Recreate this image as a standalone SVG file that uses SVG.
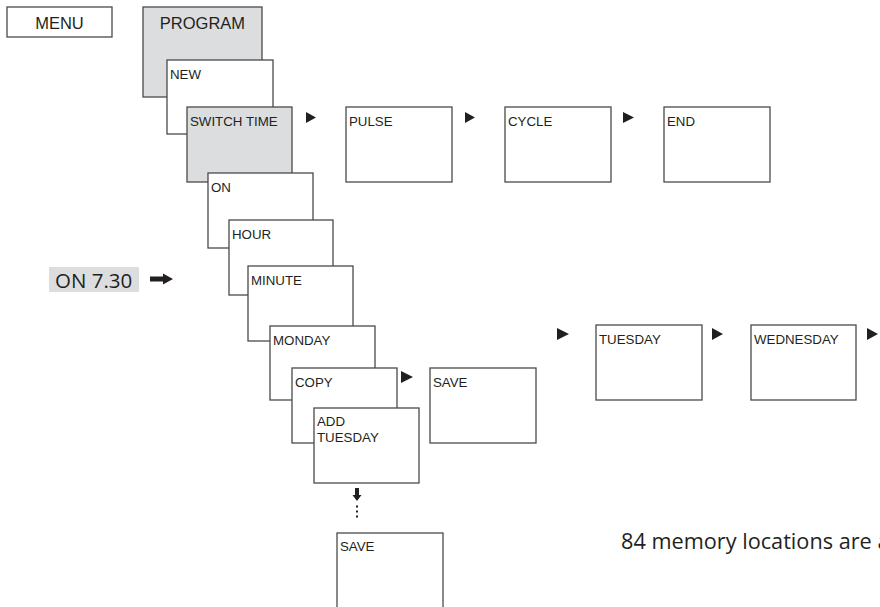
<svg xmlns="http://www.w3.org/2000/svg" width="880" height="607" viewBox="0 0 880 607">
<style>
.box{fill:#ffffff;stroke:#4a4a4a;stroke-width:1.3}
.grey{fill:#dcdddf}
.lbl{font-family:"Liberation Sans",Arial,sans-serif;font-size:13.3px;fill:#231f20}
.big{font-family:"Liberation Sans",Arial,sans-serif;font-size:16.5px;fill:#231f20;text-anchor:middle}
.fr{font-family:"Open Sans","Noto Sans",sans-serif;fill:#231f20}
.tri{fill:#231f20}
</style>
<rect x="0" y="0" width="880" height="607" fill="#ffffff"/>
<g id="menu"><rect class="box" x="7" y="7" width="105" height="30"/><text class="big" x="59.5" y="28.5">MENU</text></g>
<g id="program"><rect class="box grey" x="143" y="7" width="119" height="90"/><text class="big" x="202.5" y="28.5">PROGRAM</text></g>
<g id="new"><rect class="box" x="167" y="60" width="106" height="74"/><text class="lbl" x="170" y="78.5">NEW</text></g>
<g id="switchtime"><rect class="box grey" x="187" y="107" width="105" height="75"/><text class="lbl" x="190" y="125.5">SWITCH TIME</text></g>
<g id="on"><rect class="box" x="208" y="173" width="105" height="75"/><text class="lbl" x="211" y="191.5">ON</text></g>
<g id="hour"><rect class="box" x="229" y="220" width="104" height="75"/><text class="lbl" x="232" y="238.5">HOUR</text></g>
<g id="minute"><rect class="box" x="248" y="266" width="105" height="75"/><text class="lbl" x="251" y="284.5">MINUTE</text></g>
<g id="monday"><rect class="box" x="270" y="326" width="105" height="74"/><text class="lbl" x="273" y="344.5">MONDAY</text></g>
<g id="copy"><rect class="box" x="292" y="368" width="105" height="75"/><text class="lbl" x="295" y="386.5">COPY</text></g>
<g id="addtuesday"><rect class="box" x="314" y="408" width="105" height="75"/><text class="lbl" x="317" y="426">ADD</text><text class="lbl" x="317" y="442">TUESDAY</text></g>
<g id="save1"><rect class="box" x="430" y="368" width="106" height="75"/><text class="lbl" x="433" y="386.5">SAVE</text></g>
<g id="save2"><rect class="box" x="337" y="533" width="106" height="80"/><text class="lbl" x="340" y="551">SAVE</text></g>
<g id="pulse"><rect class="box" x="346" y="107" width="106" height="75"/><text class="lbl" x="349" y="125.5">PULSE</text></g>
<g id="cycle"><rect class="box" x="505" y="107" width="106" height="75"/><text class="lbl" x="508" y="125.5">CYCLE</text></g>
<g id="end"><rect class="box" x="664" y="107" width="106" height="75"/><text class="lbl" x="667" y="125.5">END</text></g>
<g id="tuesday"><rect class="box" x="596" y="325" width="106" height="75"/><text class="lbl" x="599" y="343.5">TUESDAY</text></g>
<g id="wednesday"><rect class="box" x="751" y="325" width="105" height="75"/><text class="lbl" x="754" y="343.5">WEDNESDAY</text></g>
<g id="on730"><rect x="49" y="267" width="90" height="25" fill="#dcdddf"/><text class="fr" x="55" y="287.5" font-size="20.5">ON 7.30</text></g>
<g id="note"><text class="fr" x="621" y="549" font-size="21.7">84 memory locations are a</text></g>
<g id="connectors">
<polygon class="tri" points="306,112 316,117.5 306,123"/>
<polygon class="tri" points="465,112 475,117.5 465,123"/>
<polygon class="tri" points="623,112 634,117.5 623,123"/>
<polygon class="tri" points="557,328 569,334 557,340"/>
<polygon class="tri" points="712,328 723,334 712,340"/>
<polygon class="tri" points="867,328 878,334 867,340"/>
<polygon class="tri" points="401,371 413,377 401,383"/>
<polygon class="tri" points="150,276.5 163,276.5 163,273.5 173,279 163,284.5 163,281.5 150,281.5"/>
<polygon class="tri" points="355,488 359,488 359,495 361.5,495 357,501 352.5,495 355,495"/>
<rect class="tri" x="356" y="505.5" width="2" height="2"/>
<rect class="tri" x="356" y="510.5" width="2" height="2"/>
<rect class="tri" x="356" y="515.5" width="2" height="2"/>
</g>
</svg>
